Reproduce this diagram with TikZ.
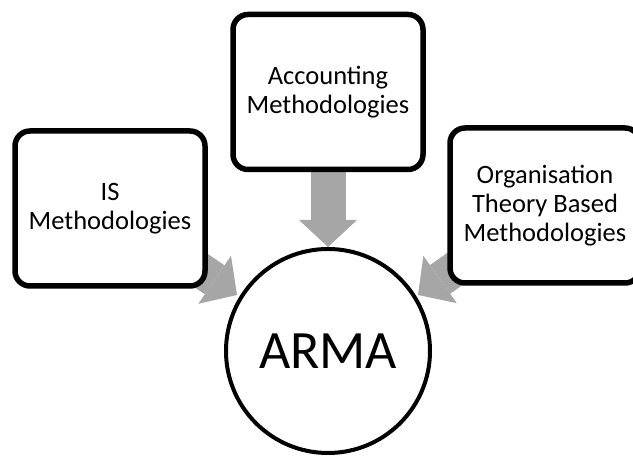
\documentclass[tikz,border=0pt]{standalone}
\usepackage{fontspec}
\setmainfont{Carlito}
\usetikzlibrary{arrows.meta,backgrounds}
\definecolor{arrowgray}{HTML}{A6A6A6}

\begin{document}
\begin{tikzpicture}
  [x=1pt,y=1pt,
   box/.style={draw,line width=5.5pt,rounded corners=15pt,fill=white,
     minimum width=190pt,minimum height=155pt,inner sep=0pt,align=center,
     font=\fontsize{26.5}{29}\selectfont},
   fat/.style={line width=35pt,color=arrowgray,
     -{Triangle[length=27pt,width=58pt,line width=0pt]}}]
  \useasboundingbox (0,0) rectangle (633,457);
  \node[box] (lbox) at (110,248.5) {IS\\Methodologies};
  \node[box] (tbox) at (328,365) {Accounting\\Methodologies};
  \node[box] (rbox) at (545,251.5) {Organisation\\Theory Based\\Methodologies};
  \node[circle,draw,line width=4pt,minimum size=204pt,inner sep=0pt,
    font=\fontsize{54}{60}\selectfont] (arma) at (328,106) {ARMA};

  \coordinate (ltip) at (237,162);
  \coordinate (ttip) at (328,210);
  \coordinate (rtip) at (418,162);

  \begin{scope}[on background layer]
  \foreach \from/\to in {lbox/ltip,tbox/ttip,rbox/rtip}
    \draw[fat] (\from.center) -- (\to);
  \end{scope}
\end{tikzpicture}
\end{document}
